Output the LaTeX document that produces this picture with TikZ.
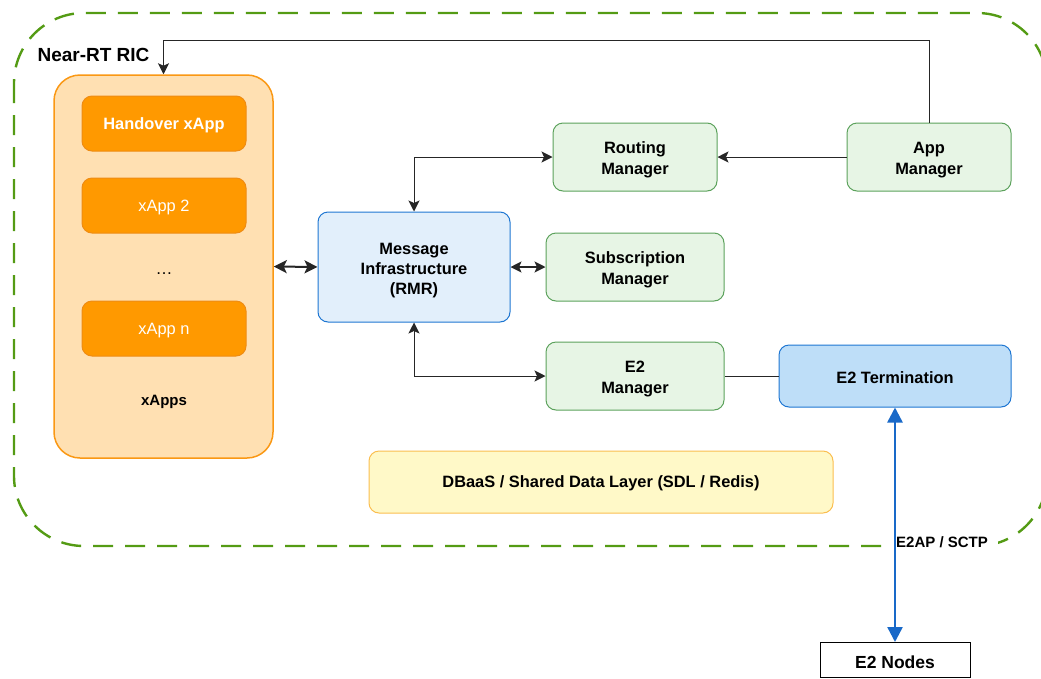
\documentclass[tikz,border=0pt]{standalone}
\usepackage{fontspec}
\setmainfont{Liberation Sans}
\usetikzlibrary{arrows.meta}

\definecolor{ricgreen}{RGB}{84,155,20}
\definecolor{appfillout}{RGB}{255,224,178}
\definecolor{appstroke}{RGB}{250,152,20}
\definecolor{appfill}{RGB}{255,153,0}
\definecolor{appinner}{RGB}{238,140,20}
\definecolor{msgfill}{RGB}{226,239,251}
\definecolor{bluestroke}{RGB}{30,118,210}
\definecolor{mgrfill}{RGB}{231,245,229}
\definecolor{mgrstroke}{RGB}{92,162,92}
\definecolor{termfill}{RGB}{190,222,248}
\definecolor{dbfill}{RGB}{255,249,200}
\definecolor{dbstroke}{RGB}{250,190,80}
\definecolor{linkblue}{RGB}{25,105,200}

% taller first line, so a text block sits a little lower in its box
\newcommand\toppad{\rule{0pt}{18pt}}

\tikzset{
  boxfont/.style={font=\fontsize{16.4}{21}\selectfont\bfseries},
  lower/.style={execute at begin node={\rule{0pt}{#1}}},
  box/.style={rounded corners=10pt, line width=1pt, align=center,
    inner sep=0pt, boxfont},
  oneline/.style={box, lower=15pt},
  xappbox/.style={oneline, fill=appfill, draw=appinner, text=white,
    minimum width=164pt, minimum height=55pt},
  mgr/.style={box, fill=mgrfill, draw=mgrstroke},
  link/.style={line width=1pt, draw=black!85},
  tip/.style={-{Stealth[length=11pt,width=11pt,inset=2.5pt]}},
  tips/.style={{Stealth[length=11pt,width=11pt,inset=2.5pt]}-{Stealth[length=11pt,width=11pt,inset=2.5pt]}},
  bigtips/.style={{Stealth[length=13pt,width=13pt,inset=3pt]}-{Stealth[length=13pt,width=13pt,inset=3pt]}},
}

\begin{document}
\begin{tikzpicture}[x=1pt, y=-1pt]
\useasboundingbox (0,0) rectangle (1041,678);

% Near-RT RIC boundary
\draw[ricgreen, line width=2.4pt, dash pattern=on 20pt off 12pt, rounded corners=70pt]
  (14,13) rectangle (1047,546);
\node[anchor=west, font=\fontsize{19}{22}\selectfont\bfseries] (ric) at (34,55) {Near-RT RIC};

% xApps group
\node[rounded corners=26pt, fill=appfillout, draw=appstroke, line width=1.5pt,
  minimum width=219pt, minimum height=383pt, inner sep=0pt] (xapps) at (163.5,266.5) {};
\node[xappbox] (ho) at (164,123.5) {Handover xApp};
\node[xappbox, font=\fontsize{16.4}{21}\selectfont] (x2) at (164,205.5) {xApp 2};
\node[font=\fontsize{17}{20}\selectfont] (dots) at (164,274) {\dots};
\node[xappbox, font=\fontsize{16.4}{21}\selectfont] (xn) at (164,328.5) {xApp n};
\node[font=\fontsize{15}{18}\selectfont\bfseries] (xlab) at (164,402) {xApps};

% Platform components
\node[box, fill=msgfill, draw=bluestroke, minimum width=192pt, minimum height=110pt]
  (rmr) at (414,267) {\toppad Message\\[-1pt]Infrastructure\\[-1pt](RMR)};
\node[mgr, minimum width=164pt, minimum height=68pt] (rt) at (635,157) {\toppad Routing\\Manager};
\node[mgr, minimum width=164pt, minimum height=68pt] (am) at (929,157) {\toppad App\\Manager};
\node[mgr, minimum width=178pt, minimum height=68pt] (sub) at (635,267) {\toppad Subscription\\Manager};
\node[mgr, minimum width=178pt, minimum height=68pt] (e2m) at (635,376) {\toppad E2\\Manager};
\node[oneline, fill=termfill, draw=bluestroke, minimum width=232pt, minimum height=62pt]
  (e2t) at (895,376) {E2 Termination};
\node[oneline, fill=dbfill, draw=dbstroke, minimum width=464pt, minimum height=62pt]
  (db) at (601,482) {DBaaS / Shared Data Layer (SDL / Redis)};
\node[oneline, rounded corners=0pt, fill=white, draw=black, minimum width=150pt, minimum height=35pt,
  font=\fontsize{17.5}{20}\selectfont\bfseries, lower=16.5pt] (e2n) at (895,660) {E2 Nodes};

% Interface label on the E2 link, sitting over the boundary line
\node[fill=white, inner xsep=10pt, inner ysep=3pt,
  font=\fontsize{15}{18}\selectfont\bfseries] (proto) at (942,542) {E2AP / SCTP};

% Connectors
\draw[link, tip] (am.north) -- ++(0,-82) -| (xapps.north);
\draw[link, tip] (am.west) -- (rt.east);
\draw[link, tips] (rt.west) -| (rmr.north);
\draw[link, bigtips, line width=2pt] (xapps.east) -- (rmr.west);
\draw[link, tips, line width=1.5pt] (rmr.east) -- (sub.west);
\draw[link, tips] (rmr.south) |- (e2m.west);
\draw[link] (e2m.east) -- (e2t.west);
\draw[linkblue, line width=2.5pt,
  {Stealth[length=15pt,width=15pt,inset=0pt]}-{Stealth[length=15pt,width=15pt,inset=0pt]}]
  (e2t.south) -- (e2n.north);
\end{tikzpicture}
\end{document}
